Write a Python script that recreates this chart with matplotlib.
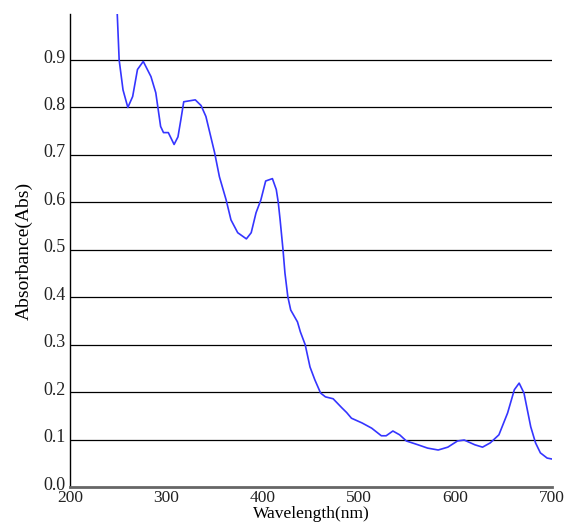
import matplotlib.pyplot as plt
from matplotlib.transforms import ScaledTranslation

wavelength = [249, 251, 255, 260, 265, 270, 276, 284, 289, 294, 297, 302, 308, 312, 315,
              318, 330, 336, 341, 350, 355, 362, 367, 374, 383, 388, 393, 398, 403, 410,
              414, 416, 418, 421, 423, 426, 429, 436, 439, 444, 449, 454, 460, 465, 473,
              482, 487, 492, 503, 513, 523, 528,
              535, 542, 549, 561, 571, 582, 592, 602, 609, 620, 628, 636, 645, 654, 661,
              666, 671, 678, 683, 688, 695, 700]
absorbance = [0.998, 0.90, 0.837, 0.800, 0.823, 0.880, 0.897, 0.865, 0.831, 0.760, 0.747,
              0.747, 0.722, 0.738, 0.774, 0.812, 0.816, 0.804, 0.781, 0.705, 0.654, 0.605,
              0.563, 0.536, 0.523, 0.536, 0.578, 0.605, 0.645, 0.650, 0.627, 0.601, 0.563,
              0.500, 0.451, 0.401, 0.373, 0.348, 0.327, 0.300, 0.253, 0.226, 0.198, 0.190,
              0.186, 0.167, 0.157, 0.145, 0.135, 0.124, 0.108,
              0.108, 0.118, 0.110, 0.097, 0.089, 0.082, 0.078, 0.084, 0.097, 0.099, 0.089,
              0.084, 0.093, 0.110, 0.156, 0.205, 0.219, 0.198, 0.127, 0.093, 0.072, 0.061,
              0.059]

xticks = [200, 300, 400, 500, 600, 700]
yticks = [0.0, 0.1, 0.2, 0.3, 0.4, 0.5, 0.6, 0.7, 0.8, 0.9]

plt.rcParams['font.family'] = 'Liberation Serif'

fig = plt.figure(figsize=(5.71, 5.24), dpi=100)
ax = fig.add_axes([0.1226, 0.0706, 0.844, 0.9027])

for y in yticks[1:]:
    ax.axhline(y, color='black', lw=0.9, zorder=1)

ax.plot(wavelength, absorbance, color='#3535ff', lw=1.2, zorder=2)

ax.set_xlim(200, 700)
ax.set_ylim(0, 0.997)
ax.set_xticks(xticks)
ax.set_yticks(yticks)
ax.set_yticklabels([f"{v:.1f}" for v in yticks])
ax.tick_params(length=0, labelsize=13, colors='#222222')
ax.tick_params(axis='x', pad=2, labelsize=12.5)
ax.tick_params(axis='y', pad=3)

# y labels sit slightly above their gridlines in the original
shift = ScaledTranslation(0, 0.04, fig.dpi_scale_trans)
for lab in ax.get_yticklabels():
    lab.set_transform(lab.get_transform() + shift)

for s in ['top', 'right']:
    ax.spines[s].set_visible(False)
ax.spines['left'].set_color('black')
ax.spines['left'].set_linewidth(1.0)
ax.spines['bottom'].set_color('#666666')
ax.spines['bottom'].set_linewidth(2.0)

ax.set_ylabel("Absorbance(Abs)", fontsize=14, labelpad=8)
ax.set_xlabel("Wavelength(nm)", fontsize=12.5, va='center')
ax.xaxis.set_label_coords(0.5, -0.058)

fig.savefig("out.png", dpi=100)
